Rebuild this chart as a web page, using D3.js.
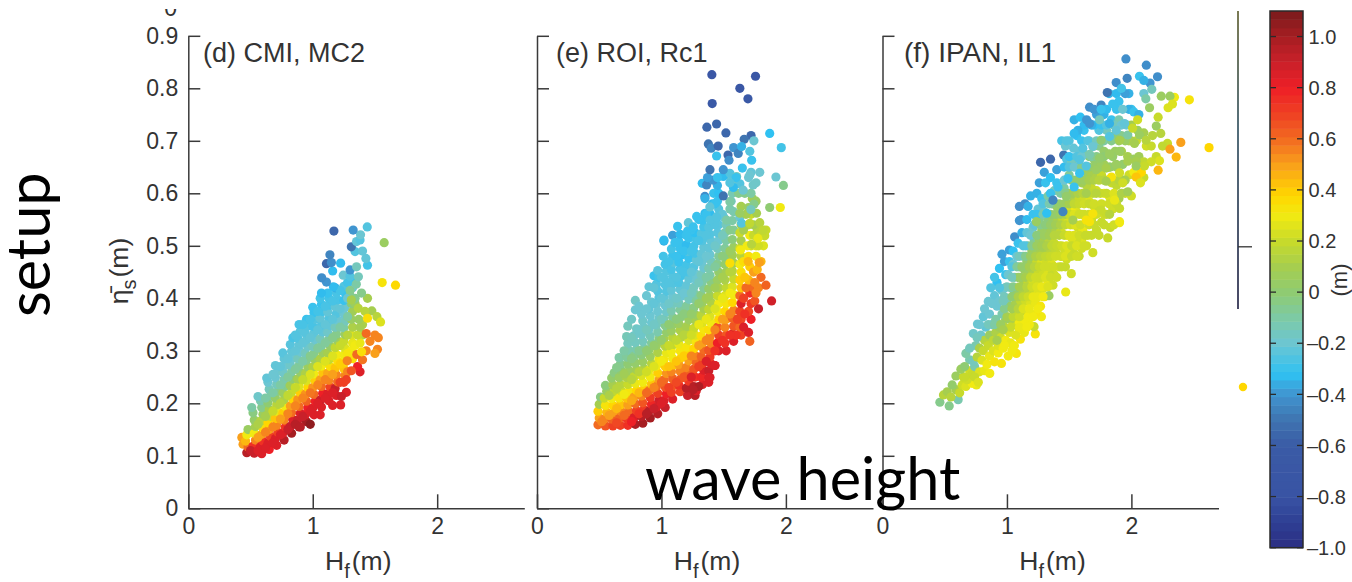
<!DOCTYPE html>
<html>
<head>
<meta charset="utf-8">
<script src="https://cdn.jsdelivr.net/npm/d3@7"></script>
<style>
  html, body { margin: 0; padding: 0; background: #fff; }
  svg { display: block; }
  text { font-family: "Liberation Sans", Arial, sans-serif; fill: #333; }
</style>
</head>
<body>
<svg width="1352" height="582"></svg>
<script>
// Panel points: [Hf, setup, tide colour value]
const pointsD = [
  [.43,.135,.5],[.44,.122,.5],[.47,.106,.95],[.48,.117,.6],[.46,.128,.45],[.47,.14,.3],[.48,.15,.05],
  [.53,.105,.9],[.52,.118,.75],[.54,.13,.55],[.53,.143,.3],[.54,.156,.1],[.53,.168,.03],[.52,.182,-.03],[.51,.192,-.1],
  [.59,.104,.85],[.58,.117,.85],[.6,.128,.75],[.59,.141,.5],[.6,.153,.35],[.58,.166,.15],[.6,.179,.05],[.59,.192,-.05],[.58,.205,-.12],[.56,.213,-.18],
  [.65,.112,.8],[.64,.124,.85],[.66,.137,.7],[.65,.15,.5],[.64,.163,.38],[.66,.175,.2],[.65,.188,.1],[.64,.201,0],[.66,.214,-.08],[.65,.227,-.15],[.64,.24,-.2],[.63,.248,-.22],
  [.71,.12,.85],[.7,.133,.85],[.72,.145,.7],[.71,.158,.55],[.7,.171,.42],[.72,.184,.28],[.71,.197,.15],[.7,.21,.03],[.72,.223,-.05],[.71,.236,-.15],[.7,.249,-.2],[.72,.262,-.2],[.7,.272,-.22],
  [.77,.13,.95],[.76,.143,.85],[.78,.155,.75],[.77,.168,.55],[.76,.181,.4],[.78,.194,.3],[.77,.207,.12],[.76,.22,.05],[.78,.233,-.05],[.77,.246,-.12],[.76,.259,-.18],[.78,.272,-.2],[.77,.285,-.22],[.76,.296,-.24],
  [.83,.143,1.0],[.82,.156,.9],[.84,.169,.85],[.83,.182,.6],[.82,.195,.5],[.84,.208,.38],[.83,.221,.2],[.82,.234,.08],[.84,.247,0],[.83,.26,-.1],[.82,.273,-.18],[.84,.286,-.2],[.83,.299,-.22],[.82,.312,-.24],[.84,.325,-.27],
  [.89,.155,.95],[.88,.168,.9],[.9,.181,.85],[.89,.194,.6],[.88,.207,.52],[.9,.22,.4],[.89,.233,.25],[.88,.246,.1],[.9,.259,.02],[.89,.272,-.08],[.88,.285,-.15],[.9,.298,-.2],[.89,.311,-.22],[.88,.324,-.25],[.9,.337,-.24],[.89,.35,-.27],
  [.95,.165,1.0],[.94,.178,.85],[.96,.191,.8],[.95,.204,.62],[.94,.217,.52],[.96,.23,.38],[.95,.243,.25],[.94,.256,.12],[.96,.269,.05],[.95,.282,-.05],[.94,.295,-.15],[.96,.308,-.18],[.95,.321,-.22],[.94,.334,-.24],[.96,.347,-.25],[.95,.36,-.3],
  [1.01,.178,.85],[1.0,.191,.85],[1.02,.204,.8],[1.01,.217,.6],[1,.23,.52],[1.02,.243,.4],[1.01,.256,.3],[1,.269,.12],[1.02,.282,.05],[1.01,.295,-.05],[1,.308,-.15],[1.02,.321,-.2],[1.01,.334,-.23],[1,.347,-.27],[1.02,.36,-.25],[1.01,.373,-.3],[1,.383,-.3],
  [1.07,.193,.85],[1.06,.206,.9],[1.08,.219,.8],[1.07,.232,.6],[1.06,.245,.5],[1.08,.258,.42],[1.07,.271,.3],[1.06,.284,.12],[1.08,.297,.05],[1.07,.31,-.1],[1.06,.323,-.15],[1.08,.336,-.22],[1.07,.349,-.25],[1.06,.362,-.22],[1.08,.375,-.28],[1.07,.388,-.3],[1.06,.4,-.28],
  [1.13,.205,.85],[1.12,.218,.85],[1.14,.231,.7],[1.13,.244,.55],[1.12,.257,.48],[1.14,.27,.35],[1.13,.283,.2],[1.12,.296,.1],[1.14,.309,.02],[1.13,.322,-.08],[1.12,.335,-.18],[1.14,.348,-.22],[1.13,.361,-.25],[1.12,.374,-.22],[1.14,.387,-.28],[1.13,.4,-.28],[1.12,.41,-.3],
  [1.19,.215,.85],[1.18,.228,.9],[1.2,.241,.6],[1.19,.254,.55],[1.18,.267,.42],[1.2,.28,.35],[1.19,.293,.3],[1.18,.306,.18],[1.2,.319,.05],[1.19,.332,-.05],[1.18,.345,-.15],[1.2,.358,-.2],[1.19,.371,-.25],[1.18,.384,-.22],[1.2,.397,-.27],[1.19,.41,-.27],[1.18,.42,-.35],
  [1.25,.24,.7],[1.26,.253,.55],[1.25,.266,.42],[1.26,.279,.35],[1.25,.292,.3],[1.26,.305,.25],[1.25,.318,.2],[1.26,.331,.05],[1.25,.344,-.1],[1.26,.357,-.15],[1.25,.37,-.2],[1.26,.383,-.2],[1.25,.396,-.3],[1.26,.41,-.3],[1.25,.423,-.25],
  [1.32,.285,.35],[1.31,.3,.3],[1.32,.315,.28],[1.31,.33,.25],[1.32,.345,.12],[1.31,.36,.05],[1.32,.375,.08],[1.31,.39,-.02],[1.3,.405,-.1],[1.32,.42,-.2],[1.31,.435,-.3],
  [.5,.11,.9],[.56,.11,.85],[.56,.135,.5],[.56,.16,.12],[.62,.115,.85],[.62,.145,.55],[.62,.175,.1],[.62,.21,-.1],[.68,.125,.85],[.68,.155,.55],[.68,.185,.2],[.68,.22,-.1],[.68,.255,-.2],[.74,.14,.85],[.74,.17,.5],[.74,.2,.15],[.74,.235,-.1],[.74,.27,-.22],
  [.8,.15,.9],[.8,.18,.55],[.8,.215,.18],[.8,.25,-.08],[.8,.285,-.22],[.86,.16,.95],[.86,.195,.55],[.86,.23,.2],[.86,.265,-.08],[.86,.3,-.22],[.86,.33,-.25],[.92,.175,.9],[.92,.21,.55],[.92,.245,.2],[.92,.28,-.1],[.92,.315,-.22],[.92,.35,-.27],
  [.98,.185,.85],[.98,.22,.58],[.98,.255,.25],[.98,.29,-.05],[.98,.325,-.22],[.98,.36,-.27],[1.04,.2,.85],[1.04,.235,.55],[1.04,.27,.25],[1.04,.305,-.08],[1.04,.34,-.23],[1.04,.375,-.28],[1.1,.21,.85],[1.1,.245,.55],[1.1,.28,.25],[1.1,.315,-.08],[1.1,.35,-.22],[1.1,.385,-.27],
  [1.16,.22,.85],[1.16,.255,.5],[1.16,.29,.25],[1.16,.325,-.05],[1.16,.36,-.23],[1.16,.395,-.27],[1.22,.24,.7],[1.22,.275,.4],[1.22,.31,.2],[1.22,.345,-.1],[1.22,.38,-.22],[1.22,.415,-.28],[1.28,.26,.55],[1.28,.295,.32],[1.28,.33,.15],[1.28,.365,-.1],[1.28,.4,-.2],[1.28,.43,-.28],[1.34,.31,.3],[1.34,.39,.05],[1.34,.4,-.05],[1.4,.33,.15],[1.4,.35,.12],[1.43,.3,.55],
  [1.27,.221,.85],[1.224,.197,.85],[1.23,.213,.9],[1.16,.196,.85],[1.06,.178,.85],[.98,.16,1.05],[.9,.155,.95],
  [1.38,.26,.85],[1.36,.27,.8],[1.31,.262,.65],[1.27,.245,.7],[1.277,.281,.55],[1.4,.283,.58],[1.354,.293,.6],[1.392,.298,.35],
  [1.38,.315,.28],[1.36,.33,.2],[1.38,.345,.1],[1.37,.36,.05],
  [1.5,.33,.55],[1.43,.333,.6],[1.527,.325,.55],[1.46,.318,.55],[1.52,.303,.55],[1.5,.295,.5],
  [1.475,.376,.1],[1.516,.365,.15],[1.545,.355,.25],[1.366,.381,.15],[1.42,.375,.15],[1.44,.362,.35],[1.31,.397,.1],[1.44,.4,.1],[1.392,.41,-.05],[1.3,.415,-.05],
  [1.07,.41,-.33],[1.166,.422,-.33],[1.35,.427,-.1],[1.11,.431,-.4],[1.072,.439,-.42],[1.245,.444,-.2],[1.3,.442,-.25],[1.367,.441,-.15],[1.16,.452,-.33],[1.3,.454,-.4],[1.352,.46,-.15],[1.44,.463,-.28],
  [1.11,.466,-.55],[1.15,.468,-.42],[1.224,.467,-.33],[1.427,.476,-.22],[1.138,.483,-.45],[1.34,.489,-.25],[1.4,.49,-.22],[1.31,.498,-.5],[1.352,.508,-.22],[1.38,.511,-.25],[1.384,.521,-.2],
  [1.17,.528,-.55],[1.325,.53,-.4],[1.438,.536,-.25],[1.574,.506,.05],[1.558,.43,.33],[1.665,.425,.37]
];

const pointsE = [
  [.49,.159,.6],[.5,.172,.5],[.49,.185,.4],[.5,.198,.1],[.51,.212,-.03],
  [.55,.157,.65],[.54,.17,.55],[.56,.183,.45],[.55,.196,.33],[.54,.21,.2],[.56,.223,.05],[.55,.234,-.02],
  [.61,.157,.7],[.6,.17,.62],[.62,.183,.5],[.61,.196,.38],[.6,.209,.3],[.62,.222,.18],[.61,.235,.1],[.6,.248,.02],[.62,.258,-.03],
  [.67,.158,.7],[.66,.171,.62],[.68,.184,.55],[.67,.197,.42],[.66,.21,.32],[.68,.223,.22],[.67,.236,.15],[.66,.249,.05],[.68,.262,0],[.67,.275,-.06],[.66,.287,-.1],
  [.73,.158,.75],[.72,.171,.72],[.74,.184,.6],[.73,.197,.5],[.72,.21,.42],[.74,.223,.32],[.73,.236,.2],[.72,.249,.12],[.74,.262,.05],[.73,.275,0],[.72,.288,-.08],[.74,.301,-.12],[.73,.314,-.15],[.72,.327,-.14],
  [.79,.16,.98],[.78,.173,.85],[.8,.186,.7],[.79,.199,.6],[.78,.212,.5],[.8,.225,.38],[.79,.238,.28],[.78,.251,.18],[.8,.264,.08],[.79,.277,.02],[.78,.29,-.05],[.8,.303,-.12],[.79,.316,-.16],[.78,.329,-.18],[.8,.342,-.17],[.73,.347,-.15],[.79,.378,-.2],[.79,.396,-.17],
  [.85,.162,1.0],[.84,.175,.95],[.86,.188,.72],[.85,.201,.65],[.84,.214,.55],[.86,.227,.4],[.85,.24,.3],[.84,.253,.25],[.86,.266,.12],[.85,.279,.05],[.84,.292,-.02],[.86,.305,-.1],[.85,.318,-.15],[.84,.331,-.18],[.86,.344,-.18],[.85,.357,-.18],[.84,.37,-.2],
  [.91,.172,1.0],[.9,.185,.95],[.92,.198,.78],[.91,.211,.72],[.9,.224,.58],[.92,.237,.42],[.91,.25,.3],[.9,.263,.28],[.92,.276,.15],[.91,.289,.05],[.9,.302,.02],[.92,.315,-.08],[.91,.328,-.14],[.9,.341,-.18],[.92,.354,-.2],[.91,.367,-.2],[.9,.38,-.22],[.92,.393,-.2],[.9,.422,-.22],[.94,.443,-.3],
  [.97,.18,.95],[.96,.193,.85],[.98,.206,.88],[.97,.219,.7],[.96,.232,.6],[.98,.245,.5],[.97,.258,.4],[.96,.271,.3],[.98,.284,.28],[.97,.297,.12],[.96,.31,.05],[.98,.323,-.03],[.97,.336,-.12],[.96,.349,-.15],[.98,.362,-.18],[.97,.375,-.2],[.96,.388,-.2],[.98,.401,-.24],[.97,.414,-.25],[.96,.427,-.25],[.98,.44,-.28],[.97,.453,-.24],
  [1.03,.192,.9],[1.02,.205,.85],[1.04,.218,.8],[1.03,.231,.65],[1.02,.244,.6],[1.04,.257,.52],[1.03,.27,.4],[1.02,.283,.32],[1.04,.296,.28],[1.03,.309,.15],[1.02,.322,.1],[1.04,.335,.02],[1.03,.348,-.05],[1.02,.361,-.12],[1.04,.374,-.18],[1.03,.387,-.2],[1.02,.4,-.22],[1.04,.413,-.25],[1.03,.426,-.25],[1.02,.439,-.25],[1.04,.452,-.25],[1.03,.465,-.28],[1.015,.48,-.28],[1.02,.509,-.35],
  [1.09,.208,.85],[1.08,.221,.7],[1.1,.234,.65],[1.09,.247,.62],[1.08,.26,.55],[1.1,.273,.42],[1.09,.286,.3],[1.08,.299,.3],[1.1,.312,.18],[1.09,.325,.15],[1.08,.338,.05],[1.1,.351,.02],[1.09,.364,-.08],[1.08,.377,-.12],[1.1,.39,-.15],[1.09,.403,-.2],[1.08,.416,-.22],[1.1,.429,-.25],[1.09,.442,-.25],[1.08,.455,-.27],[1.1,.468,-.24],[1.09,.481,-.3],[1.08,.494,-.28],[1.09,.52,-.38],
  [1.15,.222,.7],[1.14,.235,.75],[1.16,.248,.65],[1.15,.261,.55],[1.14,.274,.5],[1.16,.287,.4],[1.15,.3,.32],[1.14,.313,.28],[1.16,.326,.15],[1.15,.339,.12],[1.14,.352,.05],[1.16,.365,-.02],[1.15,.378,-.08],[1.14,.391,-.15],[1.16,.404,-.2],[1.15,.417,-.22],[1.14,.43,-.26],[1.16,.443,-.28],[1.15,.456,-.27],[1.14,.469,-.3],[1.16,.482,-.32],[1.15,.495,-.3],[1.14,.508,-.3],[1.15,.522,-.33],
  [1.21,.215,.9],[1.2,.229,.95],[1.22,.242,.72],[1.21,.255,.62],[1.2,.268,.55],[1.22,.281,.5],[1.21,.294,.38],[1.2,.307,.32],[1.22,.32,.25],[1.21,.333,.18],[1.2,.346,.1],[1.22,.359,.05],[1.21,.372,-.02],[1.2,.385,-.08],[1.22,.398,-.15],[1.21,.411,-.18],[1.2,.424,-.22],[1.22,.437,-.22],[1.21,.45,-.25],[1.2,.463,-.28],[1.22,.476,-.3],[1.21,.489,-.25],[1.2,.502,-.33],[1.22,.515,-.3],[1.21,.528,-.3],
  [1.27,.215,.95],[1.26,.232,.95],[1.28,.224,.85],[1.27,.25,.75],[1.26,.265,.65],[1.28,.278,.6],[1.27,.291,.55],[1.26,.304,.38],[1.28,.317,.32],[1.27,.33,.25],[1.26,.343,.2],[1.28,.356,.1],[1.27,.369,.05],[1.26,.382,-.03],[1.28,.395,-.08],[1.27,.408,-.1],[1.26,.421,-.15],[1.28,.434,-.2],[1.27,.447,-.2],[1.26,.46,-.25],[1.28,.473,-.22],[1.27,.486,-.28],[1.26,.499,-.28],[1.28,.512,-.28],[1.27,.525,-.32],
  [1.33,.236,.85],[1.32,.25,.78],[1.34,.263,.85],[1.33,.276,.7],[1.32,.289,.62],[1.34,.302,.6],[1.33,.315,.5],[1.32,.328,.35],[1.34,.341,.32],[1.33,.354,.25],[1.32,.367,.15],[1.34,.38,.1],[1.33,.393,.05],[1.32,.406,-.03],[1.34,.419,-.08],[1.33,.432,-.1],[1.32,.445,-.15],[1.34,.458,-.2],[1.33,.471,-.2],[1.32,.484,-.22],[1.34,.497,-.22],[1.33,.51,-.25],[1.32,.523,-.25],[1.34,.536,-.28],[1.33,.549,-.3],[1.35,.562,-.33],
  [1.39,.249,.85],[1.38,.262,.9],[1.4,.275,.85],[1.39,.288,.72],[1.38,.301,.65],[1.4,.314,.55],[1.39,.327,.55],[1.38,.34,.35],[1.4,.353,.3],[1.39,.366,.25],[1.38,.379,.18],[1.4,.392,.12],[1.39,.405,.08],[1.38,.418,.02],[1.4,.431,-.03],[1.39,.444,-.1],[1.38,.457,-.12],[1.4,.47,-.15],[1.39,.483,-.2],[1.38,.496,-.22],[1.4,.509,-.22],[1.39,.522,-.25],[1.38,.535,-.25],[1.4,.548,-.28],[1.39,.561,-.33],[1.41,.58,-.33],[1.42,.6,-.3],
  [1.43,.272,.85],[1.46,.3,.85],[1.45,.315,.8],[1.46,.33,.7],[1.45,.345,.65],[1.46,.36,.38],[1.45,.375,.3],[1.46,.39,.3],[1.45,.405,.2],[1.46,.42,.12],[1.45,.435,.05],[1.46,.45,.02],[1.45,.465,-.05],[1.46,.48,-.08],[1.45,.495,-.15],[1.46,.51,-.2],[1.45,.525,-.24],[1.46,.54,-.24],[1.45,.555,-.27],[1.46,.57,-.25],[1.45,.585,-.3],[1.46,.6,-.32],[1.45,.615,-.35],
  [1.52,.3,.85],[1.51,.315,.75],[1.52,.33,.65],[1.51,.345,.55],[1.52,.36,.5],[1.51,.375,.38],[1.52,.39,.32],[1.51,.405,.25],[1.52,.42,.18],[1.51,.435,.12],[1.52,.45,.08],[1.51,.465,.02],[1.52,.48,-.02],[1.51,.495,-.08],[1.52,.51,-.1],[1.51,.525,-.12],[1.52,.54,-.15],[1.5,.555,-.2],
  [1.58,.318,.85],[1.57,.332,.9],[1.58,.347,.65],[1.57,.362,.62],[1.58,.377,.55],[1.57,.392,.38],[1.58,.407,.3],[1.57,.422,.25],[1.58,.437,.2],[1.57,.452,.15],[1.58,.467,.1],[1.57,.482,.08],[1.58,.497,.05],[1.57,.512,-.02],[1.58,.53,-.08],[1.57,.548,-.1],[1.58,.565,-.12],[1.56,.585,-.15],[1.57,.6,-.13],[1.58,.618,-.18],[1.56,.63,-.2],
  [1.64,.33,.7],[1.63,.345,.6],[1.64,.36,.68],[1.63,.375,.7],[1.64,.39,.85],[1.63,.405,.6],[1.64,.42,.42],[1.63,.435,.4],[1.64,.45,.35],[1.63,.465,.3],[1.64,.48,.15],[1.63,.495,.22],[1.64,.51,.1],[1.63,.525,.2],[1.64,.54,.1],[1.63,.555,-.2],[1.64,.575,.1],[1.62,.6,-.05],[1.63,.618,-.25],
  [1.71,.318,.62],[1.7,.335,.85],[1.72,.36,.8],[1.7,.375,.68],[1.72,.39,.72],[1.71,.41,.75],[1.72,.43,.55],[1.71,.46,.4],[1.7,.48,.35],[1.72,.5,.22],[1.71,.52,.3],[1.7,.54,.15],[1.72,.56,.2],[1.7,.573,.05],
  [1.6,.33,.75],[1.61,.36,.7],[1.66,.345,.85],[1.67,.37,.75],[1.66,.4,.7],[1.68,.42,.6],[1.7,.435,.45],[1.67,.44,.42],[1.66,.47,.35],[1.69,.5,.3],[1.66,.53,.1],[1.68,.56,.1],[1.67,.6,-.05],[1.75,.395,.65],[1.74,.42,.6],[1.78,.42,.55],[1.74,.45,.5],[1.8,.44,.6],[1.76,.5,.25],[1.74,.52,.2],[1.82,.5,.25],[1.84,.53,.2],[1.77,.53,.15],
  [.52,.165,.55],[.58,.177,.5],[.58,.215,.12],[.64,.163,.68],[.64,.19,.45],[.64,.228,.15],[.64,.268,-.05],[.7,.177,.6],[.7,.217,.3],[.7,.256,.08],[.7,.3,-.1],[.76,.165,.8],[.76,.205,.48],[.76,.245,.15],[.76,.285,-.03],[.76,.325,-.15],[.76,.36,-.17],
  [.82,.18,.75],[.82,.22,.45],[.82,.26,.15],[.82,.3,-.06],[.82,.34,-.18],[.82,.385,-.2],[.88,.18,.95],[.88,.22,.6],[.88,.26,.22],[.88,.3,0],[.88,.34,-.15],[.88,.38,-.2],[.88,.405,-.2],[.94,.19,.9],[.94,.23,.55],[.94,.27,.25],[.94,.31,.02],[.94,.35,-.17],[.94,.39,-.22],[.94,.42,-.22],
  [1.0,.2,.85],[1.0,.24,.6],[1.0,.28,.3],[1.0,.32,.02],[1.0,.36,-.15],[1.0,.4,-.22],[1.0,.44,-.25],[1.06,.23,.7],[1.06,.27,.42],[1.06,.31,.2],[1.06,.35,0],[1.06,.39,-.18],[1.06,.43,-.25],[1.06,.47,-.28],[1.12,.24,.68],[1.12,.28,.42],[1.12,.32,.18],[1.12,.36,-.02],[1.12,.4,-.18],[1.12,.44,-.25],[1.12,.48,-.3],
  [1.18,.25,.65],[1.18,.29,.4],[1.18,.33,.15],[1.18,.37,-.02],[1.18,.41,-.2],[1.18,.45,-.27],[1.18,.49,-.3],[1.24,.25,.85],[1.24,.29,.55],[1.24,.33,.22],[1.24,.37,.02],[1.24,.41,-.15],[1.24,.45,-.22],[1.24,.49,-.28],[1.24,.53,-.3],[1.3,.27,.7],[1.3,.31,.5],[1.3,.35,.28],[1.3,.39,.02],[1.3,.43,-.15],[1.3,.47,-.22],[1.3,.51,-.27],[1.3,.55,-.3],
  [1.36,.28,.85],[1.36,.32,.55],[1.36,.36,.28],[1.36,.4,.08],[1.36,.44,-.1],[1.36,.48,-.2],[1.36,.52,-.25],[1.36,.56,-.3],[1.43,.3,.75],[1.43,.34,.55],[1.43,.38,.25],[1.43,.42,.08],[1.43,.46,-.08],[1.43,.5,-.18],[1.43,.54,-.25],[1.43,.58,-.3],
  [1.49,.32,.75],[1.49,.36,.5],[1.49,.4,.28],[1.49,.44,.1],[1.49,.48,-.02],[1.49,.52,-.15],[1.49,.56,-.22],[1.55,.33,.75],[1.55,.37,.55],[1.55,.41,.3],[1.55,.45,.15],[1.55,.49,.05],[1.55,.53,-.05],[1.55,.57,-.12],
  [1.78,.38,.9],[1.76,.41,.55],[1.75,.43,.55],[1.77,.455,.45],[1.8,.47,.45],[1.76,.48,.3],[1.78,.5,.22],[1.8,.52,.2],[1.84,.425,.62],[1.74,.54,.1],[1.73,.59,.08],[1.76,.585,.05],[1.885,.395,.88],
  [1.76,.62,-.18],[1.72,.6,-.1],[1.7,.63,-.2],[1.72,.64,-.22],[1.87,.573,0],[1.955,.573,.3],[1.98,.615,-.05],[1.92,.631,-.2],[1.79,.64,-.2],
  [1.38,.24,.85],[1.3,.232,.98],[1.255,.226,.95],[1.38,.249,.85],[1.43,.272,.85],
  [1.328,.619,-.33],[1.363,.616,-.45],[1.416,.625,-.4],[1.349,.594,-.42],[1.389,.574,-.22],[1.283,.556,-.3],[1.13,.537,-.3],[1.02,.511,-.33],[1.108,.506,-.3],[1.216,.544,-.22],[1.2,.52,-.3],[1.256,.536,-.3],[1.39,.549,-.25],[1.443,.555,-.25],
  [1.55,.584,-.1],[1.497,.595,-.5],[1.578,.611,-.33],[1.657,.606,-.2],[1.737,.616,-.18],[1.497,.632,-.33],[1.55,.638,-.25],[1.604,.632,-.15],[1.71,.635,-.2],[1.743,.579,-.05],[1.764,.562,.1],[1.718,.569,-.15],[1.63,.562,.05],[1.523,.549,-.1],[1.644,.543,-.25],[1.71,.543,.18],[1.79,.544,.15],[1.83,.519,.2],[1.775,.514,.28],[1.818,.53,.18],[1.724,.503,.15],[1.786,.468,.5],[1.697,.47,.45],[1.635,.492,.3],[1.55,.467,.35],
  [1.37,.63,-.38],[1.39,.645,-.5],[1.497,.645,-.4],[1.65,.648,-.3],[1.6,.63,-.3],[1.55,.62,-.25],[1.35,.59,-.35],[1.45,.63,-.3],
  [1.365,.726,-.55],[1.443,.732,-.55],[1.518,.715,-.55],[1.72,.71,-.55],[1.665,.703,-.5],[1.87,.714,-.32],[1.963,.687,-.28],[1.743,.70,-.2],
  [1.377,.694,-.5],[1.40,.686,-.45],[1.456,.69,-.55],[1.443,.671,-.3],[1.535,.673,-.55],[1.543,.663,-.42],[1.58,.687,-.4],[1.617,.676,-.45],[1.644,.689,-.35],[1.71,.68,-.25],[1.725,.663,-.3],
  [1.405,.826,-.7],[1.756,.823,-.7],[1.63,.8,-.7],[1.695,.78,-.65],[1.408,.771,-.65]
];

const pointsF = [
  [.461,.202,-.05],[.49,.216,.15],[.536,.195,-.05],[.52,.222,.1],[.608,.207,-.12],[.55,.212,.15],[.59,.226,.1],[.56,.235,.02],[.59,.252,.05],[.62,.22,.2],[.64,.235,.22],[.67,.232,.25],[.755,.235,.28],[.72,.238,.3],[.65,.25,.2],[.68,.245,.22],
  [.7,.262,.22],[.72,.255,.2],[.74,.27,-.12],[.7,.283,-.12],[.73,.28,-.15],[.78,.26,.25],[.82,.262,.28],[.76,.288,.15],[.8,.282,.25],[.862,.257,.3],[.84,.274,.3],[.73,.333,-.18],[.75,.31,-.12],[.78,.305,.12],[.81,.3,.2],[.86,.29,.28],[.956,.276,.33],[.9,.279,.33],
  [.763,.351,-.2],[.79,.33,-.18],[.82,.32,.15],[.85,.31,.2],[.89,.3,.25],[.93,.296,.3],[1.01,.29,.3],[1.076,.295,.32],[1.04,.3,.3],[.81,.365,-.22],[.83,.345,-.22],[.86,.33,.05],[.89,.32,.18],[.93,.31,.25],[.97,.305,.3],[.85,.394,-.2],[.86,.37,-.2],[.88,.35,-.18],[.91,.335,.12],[.95,.325,.22],[.99,.32,.3],[1.03,.315,.28],
  [1.108,.322,.33],[1.228,.332,.33],[1.218,.346,.2],[1.1,.34,.3],[1.14,.335,.28],[1.07,.33,.25],[1.18,.35,.3],[.92,.43,-.32],[.9,.405,-.22],[.92,.385,-.2],[.91,.36,-.1],[.94,.345,.08],[.98,.34,.2],[1.02,.335,.25],[1.06,.35,.22],[1.1,.355,.3],[1.14,.355,.3],
  [1.277,.365,.3],[1.23,.37,.32],[1.19,.37,.28],[1.15,.375,.28],[1.11,.375,.2],[1.07,.37,.2],[1.03,.36,.12],[.99,.36,.05],[.96,.37,-.12],[.94,.395,-.2],[.96,.415,-.18],[.94,.457,-.32],[.96,.484,-.38],[.98,.47,-.38],[.99,.445,-.3],[.985,.42,-.2],[1.0,.395,-.12],[1.03,.385,.02],[1.07,.39,.1],[1.11,.395,.18],[1.15,.395,.22],[1.19,.39,.25],[1.23,.39,.28],[1.27,.385,.32],[1.303,.403,.33],[1.338,.405,.05],
  [1.3,.42,.25],[1.26,.41,.25],[1.22,.41,.25],[1.18,.41,.2],[1.14,.415,.15],[1.1,.415,.12],[1.06,.41,.02],[1.03,.42,-.1],[1.01,.445,-.2],[1.02,.47,-.3],[1.02,.492,-.38],[1.062,.517,-.42],[1.05,.49,-.32],[1.05,.465,-.2],[1.06,.44,-.12],[1.09,.44,.02],[1.13,.435,.1],[1.17,.43,.2],[1.21,.43,.25],[1.25,.43,.22],[1.29,.44,.25],[1.33,.43,.28],[1.37,.425,.22],[1.472,.412,.28],
  [1.38,.445,.22],[1.34,.45,.2],[1.3,.455,.25],[1.26,.45,.22],[1.22,.45,.2],[1.18,.45,.12],[1.14,.455,.05],[1.1,.46,-.02],[1.08,.48,-.2],[1.09,.505,-.3],[1.115,.55,-.42],[1.1,.575,-.42],[1.145,.58,-.42],[1.1,.548,-.4],[1.12,.525,-.35],[1.13,.5,-.25],[1.13,.48,-.12],[1.16,.47,.02],[1.2,.47,.1],[1.24,.47,.2],[1.28,.47,.25],[1.32,.47,.22],[1.36,.465,.25],[1.42,.46,.22],[1.47,.46,.2],[1.517,.447,.22],
  [1.48,.475,.22],[1.44,.48,.22],[1.4,.485,.2],[1.36,.49,.18],[1.32,.49,.15],[1.28,.49,.1],[1.24,.49,.1],[1.2,.49,.05],[1.17,.5,-.05],[1.16,.525,-.22],[1.16,.55,-.33],[1.17,.575,-.35],[1.19,.595,-.35],[1.21,.56,-.3],[1.21,.535,-.18],[1.22,.51,-.08],[1.26,.51,.05],[1.3,.51,.1],[1.34,.51,.15],[1.38,.505,.2],[1.42,.5,.22],[1.46,.495,.22],[1.5,.49,.25],[1.54,.485,.2],[1.58,.48,.2],[1.6,.495,.22],
  [1.69,.487,.22],[1.64,.5,.22],[1.6,.51,.25],[1.56,.51,.22],[1.52,.515,.25],[1.48,.52,.28],[1.44,.525,.22],[1.4,.525,.18],[1.36,.53,.12],[1.32,.53,.08],[1.28,.53,.05],[1.26,.55,-.05],[1.25,.57,-.22],[1.24,.6,-.35],[1.26,.62,-.38],[1.28,.59,-.3],[1.3,.565,-.18],[1.33,.55,-.02],[1.37,.55,.05],[1.41,.55,.12],[1.45,.55,.2],[1.49,.545,.25],[1.53,.54,.3],[1.57,.535,.22],[1.61,.53,.28],[1.65,.52,.22],
  [1.81,.515,.2],[1.83,.535,.2],[1.904,.544,.3],[1.72,.53,.2],[1.76,.545,.2],[1.68,.55,.22],[1.64,.555,.2],[1.6,.56,.2],[1.56,.565,.25],[1.52,.565,.3],[1.48,.57,.25],[1.44,.575,.1],[1.4,.575,.05],[1.36,.58,-.02],[1.33,.595,-.1],[1.31,.62,-.3],[1.3,.64,-.38],[1.35,.63,-.32],[1.27,.659,-.55],[1.35,.665,-.55],[1.456,.673,-.5],[1.4,.645,-.38],[1.46,.65,-.33],[1.4,.62,-.3],[1.38,.605,-.15],
  [1.46,.61,-.1],[1.5,.6,.05],[1.54,.59,.12],[1.58,.59,.2],[1.62,.59,.22],[1.66,.585,.25],[1.7,.575,.22],[1.74,.57,.2],[1.78,.56,.22],[1.85,.57,.22],[1.9,.59,.1],[1.82,.595,.25],[1.78,.6,.3],[1.72,.605,.22],[1.68,.61,.2],[1.64,.615,.15],[1.6,.62,.08],[1.55,.625,0],[1.5,.635,-.08],[1.48,.665,-.25],[1.44,.7,-.27],[1.5,.7,-.25],[1.47,.69,-.2],[1.52,.66,-.15],[1.56,.65,-.05],
  [1.6,.645,.02],[1.64,.64,.05],[1.68,.635,.1],[1.72,.63,.12],[1.76,.635,.2],[1.8,.625,.22],[1.84,.62,.2],[1.88,.615,.18],[1.93,.625,.1],[1.98,.635,.22],[1.93,.655,.02],[1.88,.65,.05],[1.83,.65,.05],[1.78,.655,.08],[1.74,.66,.05],[1.7,.665,.02],[1.66,.67,-.02],[1.62,.675,-.1],[1.58,.68,-.22],[1.56,.71,-.32],[1.54,.74,-.35],[1.62,.72,-.3],[1.59,.745,-.32],[1.66,.7,-.18],[1.7,.69,-.1],
  [1.74,.69,-.05],[1.78,.68,.03],[1.82,.675,.05],[1.87,.68,.05],[1.92,.68,.1],[1.97,.67,.1],[2.02,.665,.05],[2.06,.67,.08],[2.1,.66,.18],[2.12,.69,.22],[2.04,.7,.2],[1.98,.7,.1],[1.92,.71,-.05],[1.86,.71,-.02],[1.8,.72,-.15],[1.74,.72,-.25],[1.7,.73,-.32],[1.664,.764,-.42],[1.757,.768,-.45],[1.72,.75,-.38],[1.78,.75,-.35],[1.84,.74,-.3],[1.9,.74,-.12],[1.96,.73,-.2],[2.0,.73,.08],
  [2.05,.72,.05],[2.1,.715,.1],[2.0,.7,.12],[2.16,.69,.2],[2.2,.67,.2],[2.226,.662,.25],[2.215,.644,.45],[2.17,.71,.15],[2.215,.745,.2],[2.2,.728,.05],[2.236,.714,.15],[2.29,.695,.2],[2.25,.69,.18],[2.31,.684,.5],[2.36,.669,.45],[2.397,.697,.5],[2.624,.687,.38],[2.16,.66,.22],[2.1,.63,.2],[2.05,.63,.25],[2.02,.64,.3],[2.08,.64,.38],[1.95,.6,.2],[2.0,.595,.22],
  [.98,.31,.3],[1.06,.31,.3],[.98,.345,.15],[1.03,.345,.2],[1.1,.345,.28],[1.16,.345,.3],[1.0,.365,.1],[1.05,.365,.18],[1.1,.365,.22],[1.17,.365,.3],[1.21,.365,.3],[.98,.38,-.05],[1.04,.38,.08],[1.09,.38,.15],[1.13,.38,.25],[1.18,.38,.28],[1.25,.38,.3],
  [.98,.403,-.15],[1.04,.403,0],[1.09,.403,.12],[1.13,.403,.18],[1.17,.403,.22],[1.21,.403,.28],[1.25,.403,.28],[1.29,.403,.3],[1.0,.422,-.15],[1.05,.422,-.05],[1.1,.422,.1],[1.16,.422,.15],[1.2,.422,.22],[1.24,.422,.25],[1.28,.422,.28],[1.33,.422,.25],
  [1.04,.44,-.15],[1.11,.44,.05],[1.15,.44,.1],[1.19,.44,.18],[1.23,.44,.22],[1.27,.44,.22],[1.31,.44,.25],[1.35,.44,.22],[1.4,.44,.22],[1.04,.46,-.25],[1.08,.46,-.08],[1.12,.46,.02],[1.18,.46,.1],[1.22,.46,.15],[1.26,.46,.2],[1.3,.46,.22],[1.34,.46,.22],[1.38,.46,.22],[1.44,.46,.2],
  [1.1,.48,-.15],[1.15,.48,-.05],[1.19,.48,.05],[1.23,.48,.12],[1.27,.48,.15],[1.31,.48,.18],[1.35,.48,.2],[1.39,.48,.22],[1.43,.48,.22],[1.47,.48,.25],[1.52,.48,.2],[1.56,.48,.22],[1.15,.5,-.25],[1.2,.5,-.05],[1.24,.5,.05],[1.28,.5,.08],[1.32,.5,.12],[1.36,.5,.18],[1.4,.5,.2],[1.44,.5,.22],[1.48,.5,.25],[1.52,.5,.2],[1.56,.5,.25],[1.62,.5,.22],
  [1.19,.52,-.2],[1.24,.52,-.02],[1.3,.52,.05],[1.34,.52,.08],[1.38,.52,.15],[1.42,.52,.15],[1.46,.52,.2],[1.5,.52,.25],[1.54,.52,.25],[1.58,.52,.22],[1.63,.52,.2],[1.68,.52,.2],[1.74,.52,.2],[1.22,.54,-.22],[1.27,.54,-.05],[1.31,.54,-.02],[1.35,.54,.03],[1.39,.54,.08],[1.43,.54,.12],[1.47,.54,.18],[1.51,.54,.22],[1.55,.54,.25],[1.59,.54,.22],[1.66,.54,.22],[1.7,.54,.2],[1.78,.54,.2],[1.86,.54,.22],
  [1.24,.56,-.3],[1.29,.56,-.12],[1.35,.56,0],[1.39,.56,.02],[1.43,.56,.05],[1.47,.56,.12],[1.5,.56,.2],[1.54,.56,.25],[1.58,.56,.22],[1.62,.56,.22],[1.66,.56,.22],[1.72,.56,.22],[1.8,.56,.2],[1.29,.58,-.25],[1.34,.58,-.12],[1.42,.58,.02],[1.46,.58,.05],[1.5,.58,.1],[1.54,.58,.18],[1.58,.58,.2],[1.62,.58,.22],[1.66,.58,.2],[1.7,.58,.22],[1.76,.58,.22],[1.82,.58,.22],[1.88,.58,.2],
  [1.35,.6,-.3],[1.43,.6,-.1],[1.47,.6,-.05],[1.53,.6,.08],[1.57,.6,.12],[1.61,.6,.15],[1.65,.6,.18],[1.69,.6,.18],[1.75,.6,.2],[1.8,.6,.2],[1.86,.6,.25],[1.92,.6,.12],[1.46,.625,-.2],[1.52,.625,-.02],[1.57,.625,.02],[1.62,.625,.05],[1.66,.625,.1],[1.7,.625,.12],[1.74,.625,.15],[1.78,.625,.15],[1.82,.625,.18],[1.86,.625,.18],[1.9,.625,.15],[1.95,.625,.1],
  [1.5,.65,-.25],[1.54,.65,-.2],[1.6,.65,-.05],[1.66,.65,0],[1.7,.65,.03],[1.75,.65,.05],[1.82,.65,.02],[1.5,.67,-.3],[1.56,.67,-.25],[1.6,.67,-.2],[1.68,.67,-.1],[1.72,.67,-.05],[1.78,.67,0],[1.85,.67,.03],[1.6,.7,-.3],[1.65,.7,-.25],[1.72,.7,-.15],[1.78,.7,-.1],[1.84,.7,-.05],[1.9,.7,0],[1.95,.7,.05],
  [1.62,.73,-.33],[1.68,.73,-.35],[1.76,.73,-.3],[1.8,.73,-.25],[1.86,.73,-.15],[1.92,.73,-.2],[1.7,.76,-.4],[1.8,.76,-.33],[1.88,.76,-.3],[2.0,.76,-.3],[1.82,.79,-.35],[1.88,.79,-.33],[1.98,.79,-.35],[2.1,.79,-.2],
  [.66,.25,.2],[.74,.25,.2],[.77,.24,.25],[.63,.265,.05],[.66,.27,0],[.67,.295,-.1],[.7,.305,-.15],[.76,.325,-.15],[.78,.35,-.2],[.82,.38,-.2],[.85,.35,-.15],[.87,.42,-.25],[.9,.44,-.28],[.88,.39,-.2],[.94,.42,-.25],[.97,.395,-.15],[.9,.35,-.1],[.92,.32,.1],[.95,.35,.05],[.97,.34,.1],
  [1.477,.7,-.25],[1.536,.686,-.22],[1.57,.72,-.35],[1.54,.714,-.33],[1.64,.74,-.4],[1.664,.733,-.4],[1.744,.74,-.15],[1.824,.733,-.35],[1.878,.72,-.22],[1.945,.733,-.22],[1.971,.711,-.1],[2.01,.724,.2],[2.065,.711,.05],[2.118,.701,.15],[2.025,.695,.1],[1.905,.701,.1],[1.824,.708,-.25],[1.757,.701,0],[1.69,.689,-.2],[1.61,.686,-.25],
  [1.905,.68,.05],[1.824,.674,.05],[1.744,.667,.02],[1.664,.674,-.12],[1.584,.664,-.25],[1.637,.652,-.25],[1.717,.645,.05],[1.797,.648,.1],[1.878,.655,.05],[1.971,.661,.1],[2.038,.661,.1],[2.105,.652,.2],[2.038,.652,.05],[1.905,.639,.22],[1.84,.631,.33],[1.797,.623,.1],[1.931,.62,.22],[2.038,.631,.42],[2.073,.62,.25],[1.971,.603,.08],
  [1.865,.587,.28],[1.905,.571,.2],[1.905,.546,.3],[1.825,.56,.15],[1.757,.568,.2],[1.69,.561,.33],[1.637,.549,.33],[1.664,.546,.33],[1.53,.549,.1],[1.45,.565,-.45],[1.37,.587,-.45],[1.41,.612,-.3],[1.49,.628,-.3],[1.54,.612,-.3],[1.477,.594,.02],[1.637,.6,.1],[1.717,.6,.15],[1.584,.638,-.3],[1.32,.562,-.32],[1.236,.546,.05],
  [1.806,.792,-.5],[1.757,.76,-.3],[1.878,.811,-.42],[1.966,.819,-.45],[1.956,.856,-.42],[2.12,.844,-.42],[2.065,.823,-.3],[2.21,.822,-.42],[2.15,.81,-.4],[2.1,.815,-.35],[1.95,.79,-.38],[1.9,.775,-.3],[1.85,.77,-.3],[1.92,.8,-.28],[1.98,.76,-.35],[2.02,.755,-.3],[2.06,.75,-.35],[1.93,.76,-.2],[2.164,.798,-.15],[2.24,.785,.05],[2.116,.78,-.1],[2.346,.783,.3],[2.31,.785,.05],[2.466,.778,.33],[2.295,.763,.25],[2.146,.763,.05],[2.33,.77,.25],[2.05,.74,.22]
];

// Colour scale stops
const tideStops = [-1, -.9, -.8, -.6, -.5, -.4, -.32, -.2, -.1, 0, .1, .2, .3, .38, .5, .6, .7, .8, .9, 1, 1.1];
const tideColors = ["#2c2e83", "#2e3f94", "#3953a4", "#3a5ba6", "#3f74b0", "#4095d0", "#2fc1f2", "#6cc6d2", "#7dcaa5", "#8fcb72", "#a6ce4f", "#c7da2b", "#f1ea12", "#ffd700", "#f9a01b", "#f26a21", "#ef4023", "#ee1f26", "#c9202a", "#a61e22", "#7a1a1c"];
const barSteps = d3.range(64);
const barTicks = [-1, -.8, -.6, -.4, -.2, 0, .2, .4, .6, .8, 1];

const xTicks = [0, 1, 2];
const yTicks = [0, .1, .2, .3, .4, .5, .6, .7, .8, .9];
const panels = [
  { left: 188.3, title: "(d) CMI, MC2", titleX: 203, titleSize: 27, pts: pointsD, yLabels: true },
  { left: 537, title: "(e) ROI, Rc1", titleX: 556, titleSize: 27, pts: pointsE, yLabels: false },
  { left: 882.5, title: "(f) IPAN, IL1", titleX: 904, titleSize: 28, pts: pointsF, yLabels: false },
];

// Left edge of a fourth panel that got cut off in the source image
const strayPoint = [[.04, .231, .38]];
const strayTick = [.5];

const plotTop = 35.8, plotBottom = 508.3, panelW = 336;

const svg = d3.select("svg");
const tideColor = d3.scaleLinear().domain(tideStops).range(tideColors);

const yScale = d3.scaleLinear().domain([0, .9]).range([plotBottom, plotTop]);

panels.forEach((p) => {
  const x = d3.scaleLinear().domain([0, 2.7]).range([p.left, p.left + panelW]);
  const g = svg.append("g");

  g.selectAll("circle")
    .data(p.pts)
    .enter()
    .append("circle")
    .attr("cx", (d) => x(d[0]))
    .attr("cy", (d) => yScale(d[1]))
    .attr("r", 4.6)
    .attr("fill", (d) => tideColor(d[2]));

  const xAxis = d3.axisBottom(x).tickValues(xTicks).tickFormat(d3.format("d")).tickSizeInner(-14).tickSizeOuter(0).tickPadding(9);
  const yAxis = d3.axisLeft(yScale).tickValues(yTicks).tickSizeInner(-12).tickSizeOuter(0).tickPadding(10)
    .tickFormat((d) => (p.yLabels ? (d === 0 ? "0" : d.toFixed(1)) : ""));

  const gx = g.append("g").attr("transform", `translate(0,${plotBottom})`).call(xAxis);
  const gy = g.append("g").attr("transform", `translate(${p.left},0)`).call(yAxis);
  [gx, gy].forEach((a) => {
    a.selectAll("path,line").attr("stroke", "#3a3a3a").attr("stroke-width", 1.5);
    a.selectAll("text").attr("font-size", 23).attr("fill", "#333");
  });

  g.append("text")
    .attr("x", p.titleX)
    .attr("y", 62)
    .attr("font-size", p.titleSize)
    .text(p.title);

  const hf = g.append("text")
    .attr("x", p.left + 170)
    .attr("y", 570)
    .attr("text-anchor", "middle")
    .attr("font-size", 26.5);
  hf.append("tspan").text("H");
  hf.append("tspan").attr("dy", 8).attr("font-size", 20).text("f");
  hf.append("tspan").attr("dy", -8).attr("dx", 2).text("(m)");
});

// y axis title
svg.append("text")
  .attr("transform", "translate(128,271) rotate(-90)")
  .attr("text-anchor", "middle")
  .attr("font-size", 26.5)
  .html('η̄<tspan dy="8" font-size="20">s</tspan><tspan dy="-8" dx="2">(m)</tspan>');

// Bottom of a "1.0" label that was cropped at the top of the image
svg.append("clipPath").attr("id", "topCrop").append("rect").attr("x", 150).attr("y", 9).attr("width", 40).attr("height", 20);
svg.append("text")
  .attr("x", 177)
  .attr("y", 16)
  .attr("text-anchor", "end")
  .attr("font-size", 23)
  .attr("clip-path", "url(#topCrop)")
  .text("0");

// Cut off fourth panel
const strayX = d3.scaleLinear().domain([0, 2.7]).range([1238, 1238 + panelW]);
const lineColor = svg.append("linearGradient").attr("id", "strayLine").attr("x1", 0).attr("y1", 0).attr("x2", 0).attr("y2", 1);
lineColor.append("stop").attr("offset", 0).attr("stop-color", "#5a5a2a");
lineColor.append("stop").attr("offset", .4).attr("stop-color", "#2a4a5a");
lineColor.append("stop").attr("offset", 1).attr("stop-color", "#1c1c40");
svg.append("rect").attr("x", 1237.2).attr("y", 11).attr("width", 1.6).attr("height", 298).attr("fill", "url(#strayLine)");
svg.selectAll(".strayTick")
  .data(strayTick)
  .enter()
  .append("line")
  .attr("class", "strayTick")
  .attr("x1", 1238)
  .attr("x2", 1252)
  .attr("y1", (d) => yScale(d) + 1)
  .attr("y2", (d) => yScale(d) + 1)
  .attr("stroke", "#333")
  .attr("stroke-width", 1.3);
svg.selectAll(".stray")
  .data(strayPoint)
  .enter()
  .append("circle")
  .attr("class", "stray")
  .attr("cx", (d) => strayX(d[0]))
  .attr("cy", (d) => yScale(d[1]))
  .attr("r", 4.2)
  .attr("fill", (d) => tideColor(d[2]));

// Colour bar
const barY = d3.scaleLinear().domain([-1, 1.1]).range([547.7, 11]);
const barG = svg.append("g");
const stepH = 2.1 / barSteps.length;
barG.selectAll("rect")
  .data(barSteps)
  .enter()
  .append("rect")
  .attr("x", 1270)
  .attr("width", 33)
  .attr("y", (d) => barY(-1 + (d + 1) * stepH))
  .attr("height", (d) => barY(-1 + d * stepH) - barY(-1 + (d + 1) * stepH) + .5)
  .attr("fill", (d) => tideColor(-1 + (d + .5) * stepH));
barG.append("rect")
  .attr("x", 1270).attr("y", 11).attr("width", 33).attr("height", 536.7)
  .attr("fill", "none").attr("stroke", "#2a2a2a").attr("stroke-width", 1.5);
barTicks.forEach((t) => {
  barG.append("line").attr("x1", 1270).attr("x2", 1276).attr("y1", barY(t)).attr("y2", barY(t)).attr("stroke", "#2a2a2a").attr("stroke-width", 1.3);
  barG.append("line").attr("x1", 1297).attr("x2", 1303).attr("y1", barY(t)).attr("y2", barY(t)).attr("stroke", "#2a2a2a").attr("stroke-width", 1.3);
});
barG.selectAll("text")
  .data(barTicks)
  .enter()
  .append("text")
  .attr("x", (d) => (d < 0 ? 1307 : 1308.5))
  .attr("y", (d) => barY(d))
  .attr("dy", ".36em")
  .attr("font-size", 20)
  .text((d) => (d === 0 ? "0" : (d < 0 ? "–" : "") + Math.abs(d).toFixed(1)));
svg.append("text")
  .attr("transform", "translate(1347,280) rotate(-90)")
  .attr("text-anchor", "middle")
  .attr("font-size", 22)
  .text("(m)");

// Big annotations pasted over the figure
svg.append("text")
  .attr("x", 645)
  .attr("y", 500)
  .attr("font-size", 59.4)
  .style("font-family", "Lato")
  .style("fill", "#000")
  .text("wave height");
svg.append("text")
  .attr("transform", "translate(50,317) rotate(-90)")
  .attr("font-size", 59.4)
  .style("font-family", "Lato")
  .style("fill", "#000")
  .text("setup");
</script>
</body>
</html>
